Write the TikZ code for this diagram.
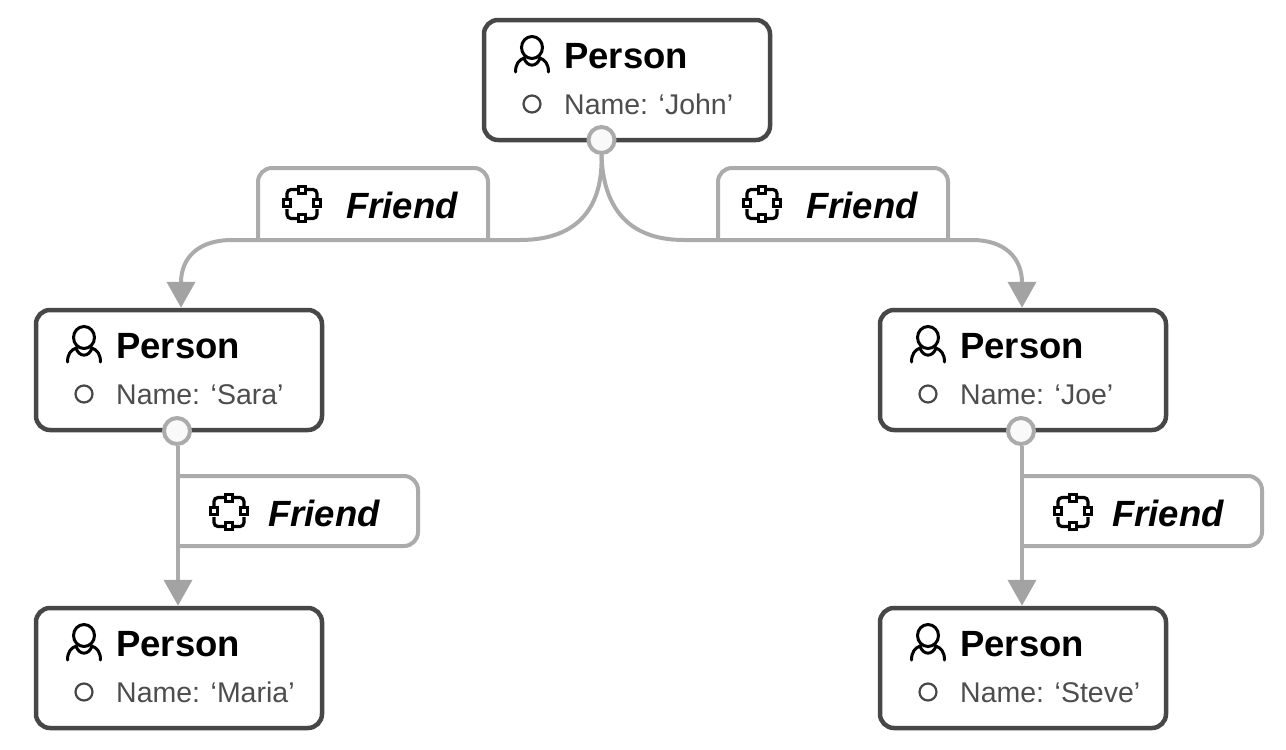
\documentclass[tikz,border=0pt]{standalone}
\usepackage{fontspec}
\setmainfont{Liberation Sans}
\usetikzlibrary{arrows.meta}

\definecolor{boxline}{HTML}{474747}
\definecolor{nametext}{HTML}{4D4D4D}
\definecolor{relline}{HTML}{ABABAB}
\definecolor{relhead}{HTML}{A3A3A3}
\definecolor{portfill}{HTML}{F9F9F9}

\tikzset{
  personbox/.style={draw=boxline,line width=4.5,rounded corners=14,fill=white,
    minimum width=286,minimum height=120,inner sep=0},
  titletext/.style={anchor=base west,inner sep=0,font=\fontsize{36.5}{40}\selectfont\bfseries},
  nametxt/.style={anchor=base west,inner sep=0,text=nametext,font=\fontsize{28.5}{32}\selectfont},
  reltext/.style={anchor=base west,inner sep=0,font=\fontsize{36.5}{40}\selectfont\bfseries\itshape},
  propdot/.style={circle,draw=boxline,line width=2.2,fill=white,minimum size=17,inner sep=0},
  relport/.style={circle,draw=relline,line width=4,fill=portfill,minimum size=26,inner sep=0},
  reltab/.style={draw=relline,line width=4,rounded corners=14,fill=white},
  relarrow/.style={draw=relline,line width=4,-{Triangle[width=28,length=26,color=relhead]}},
  pics/personicon/.style={code={
    \draw[line width=3,black] (0,-7.5) ellipse (10.5 and 11);
    \draw[line width=3,black,line cap=round]
      (-16.5,17) .. controls (-16.5,9) and (-13,5) .. (-8,3)
      .. controls (-5,12.5) and (5,12.5) .. (8,3)
      .. controls (13,5) and (16.5,9) .. (16.5,17);
  }},
  pics/relicon/.style={code={
    % corner arcs
    \foreach \sx/\sy in {1/1,1/-1,-1/1,-1/-1}
      \draw[line width=3.2,black,rounded corners=4]
        (\sx*15,\sy*5) -- (\sx*15,\sy*14.5) -- (\sx*5,\sy*14.5);
    % four little squares
    \foreach \ax/\ay in {0/-14,15/-1,0/14,-15/-1}
      \draw[line width=3,black,fill=white] (\ax-3.2,\ay-3.2) rectangle (\ax+3.2,\ay+3.2);
  }},
}

\begin{document}
\begin{tikzpicture}[x=1pt,y=-1pt]
  \useasboundingbox (0,0) rectangle (1286,750);
  % --- person boxes ---
  \foreach \nm/\x/\y/\val in {john/627/80/John,sara/179/370/Sara,joe/1023/370/Joe,
      maria/179/668/Maria,steve/1023/668/Steve} {
    \node[personbox] (\nm) at (\x,\y) {};
    \pic at (\x-95,\y-25) {personicon};
    \node[titletext] (\nm-title) at (\x-63,\y-12) {Person};
    \node[propdot] (\nm-dot) at (\x-95,\y+24) {};
    \node[nametxt] (\nm-name) at (\x-63,\y+34) {Name: ‘\val’};
  }
  % --- ports under the boxes ---
  \node[relport] (john-port) at (601.5,140) {};
  \node[relport] (sara-port) at (177,431) {};
  \node[relport] (joe-port) at (1021,431) {};
  % --- tabs, open towards the connector ---
  \draw[reltab] (258,240) -- (258,168) -- (488,168) -- (488,240);
  \draw[reltab] (718,240) -- (718,168) -- (948,168) -- (948,240);
  \draw[reltab] (178,476) -- (418,476) -- (418,546) -- (178,546);
  \draw[reltab] (1022,476) -- (1262,476) -- (1262,546) -- (1022,546);
  % --- connectors ---
  \draw[relarrow] (john-port.south) .. controls (603,205) and (580,240) .. (520,240) -- (232,240)
    .. controls (198,240) and (181,258) .. ([xshift=2]sara.north);
  \draw[relarrow] (john-port.south) .. controls (603,205) and (626,240) .. (684,240) -- (972,240)
    .. controls (1005,240) and (1022,258) .. ([xshift=-1]joe.north);
  \draw[relarrow] ([xshift=1]sara-port.south) -- ([xshift=1]sara-port.south |- maria.north);
  \draw[relarrow] ([xshift=1]joe-port.south) -- ([xshift=1]joe-port.south |- steve.north);
  % --- tab contents ---
  \foreach \nm/\ix/\tx/\y in {relsara/302/346/218,reljoe/762/806/218,
      relmaria/229/268/526,relsteve/1073/1112/526} {
    \pic at (\ix,\y-14) {relicon};
    \node[reltext] (\nm) at (\tx,\y) {Friend};
  }
\end{tikzpicture}
\end{document}
